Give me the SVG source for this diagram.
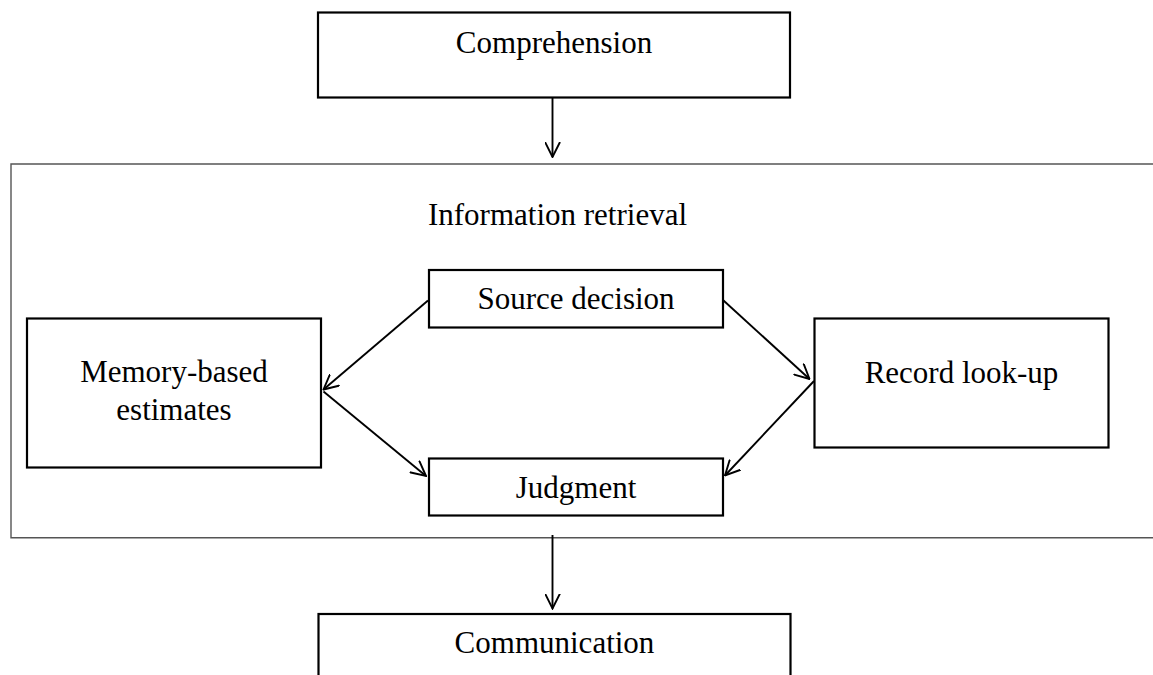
<svg xmlns="http://www.w3.org/2000/svg" width="1153" height="675" viewBox="0 0 1153 675">
<style>
.box{fill:#fff;stroke:#000;stroke-width:2.2}
.outer{fill:none;stroke:#555;stroke-width:1.4}
.t{font-family:"Liberation Serif","Times New Roman",serif;font-size:31px;fill:#000;text-anchor:middle}
.c{stroke:#000;stroke-width:1.9;fill:none}
</style>
<defs>
<marker id="ah" viewBox="0 0 16 16" refX="15" refY="8" markerWidth="16" markerHeight="16" markerUnits="userSpaceOnUse" orient="auto">
<path d="M0,0.5 L15,8 L0,15.5" fill="none" stroke="#000" stroke-width="1.9"/>
</marker>
</defs>
<g id="info-retrieval">
<path class="outer" d="M1160,164 L11,164 L11,537.7 L1160,537.7"/>
<text class="t" x="557.5" y="225">Information retrieval</text>
</g>
<g id="comprehension">
<rect class="box" x="318" y="12.5" width="472" height="85"/>
<text class="t" x="554" y="53">Comprehension</text>
</g>
<g id="source-decision">
<rect class="box" x="429" y="270" width="294" height="57.5"/>
<text class="t" x="576" y="309">Source decision</text>
</g>
<g id="memory">
<rect class="box" x="27" y="318.5" width="294" height="149"/>
<text class="t" x="174" y="382">Memory-based</text>
<text class="t" x="174" y="420">estimates</text>
</g>
<g id="record">
<rect class="box" x="814.5" y="318.5" width="294" height="129"/>
<text class="t" x="961.5" y="383">Record look-up</text>
</g>
<g id="judgment">
<rect class="box" x="429" y="458.5" width="294" height="57"/>
<text class="t" x="576" y="498">Judgment</text>
</g>
<g id="communication">
<rect class="box" x="318.5" y="614" width="472" height="80"/>
<text class="t" x="554.5" y="653">Communication</text>
</g>
<g id="connectors">
<line class="c" x1="552.5" y1="97.5" x2="552.5" y2="157" marker-end="url(#ah)"/>
<line class="c" x1="428" y1="300.5" x2="323.5" y2="389.5" marker-end="url(#ah)"/>
<line class="c" x1="323.5" y1="391.5" x2="426" y2="476" marker-end="url(#ah)"/>
<line class="c" x1="723.5" y1="300.5" x2="809.5" y2="379" marker-end="url(#ah)"/>
<line class="c" x1="814" y1="381" x2="725" y2="475.5" marker-end="url(#ah)"/>
<line class="c" x1="552.5" y1="535" x2="552.5" y2="608.5" marker-end="url(#ah)"/>
</g>
</svg>
